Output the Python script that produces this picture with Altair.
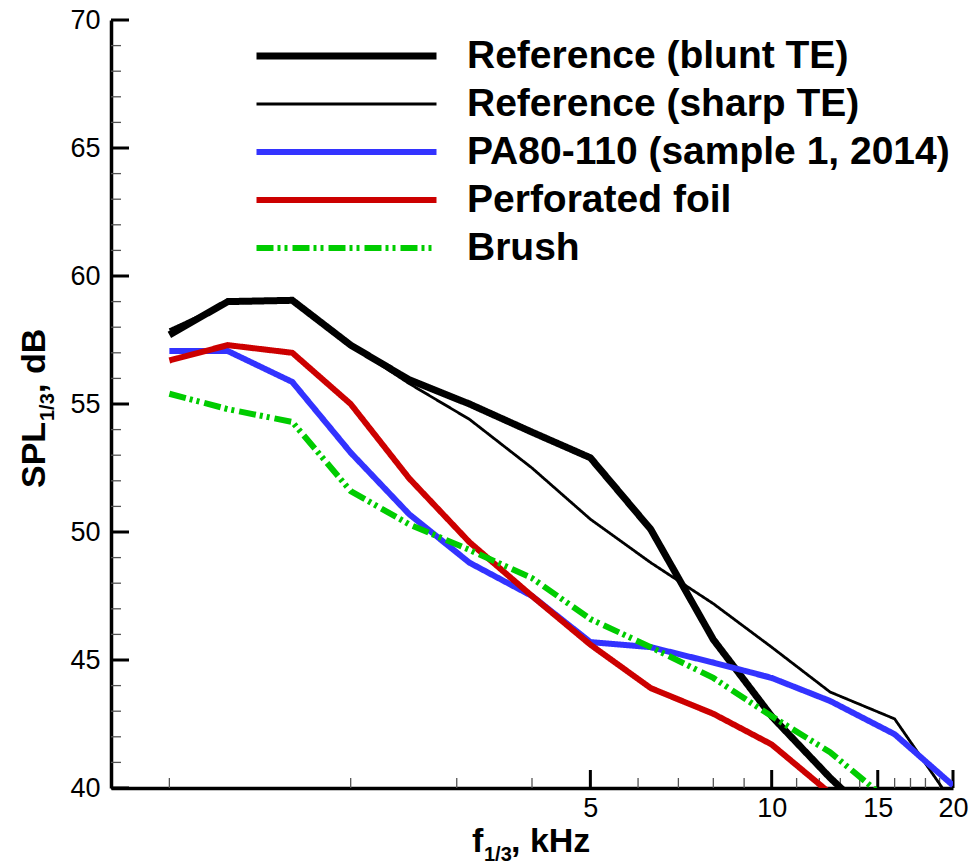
import altair as alt
import pandas as pd

# ---------------- data ----------------
freq_khz = [1, 1.25, 1.6, 2, 2.5, 3.15, 4, 5, 6.3, 8, 10, 12.5, 16, 20]

series_names = [
    "Reference (blunt TE)",
    "Reference (sharp TE)",
    "PA80-110 (sample 1, 2014)",
    "Perforated foil",
    "Brush",
]

spl_blunt = [57.7, 59.0, 59.05, 57.3, 55.95, 55.0, 53.9, 52.9, 50.1, 45.8, 42.8, 40.4, 38.0, 36.0]
spl_sharp = [57.9, 58.95, 59.05, 57.3, 55.8, 54.4, 52.5, 50.5, 48.8, 47.2, 45.5, 43.75, 42.7, 39.4]
spl_pa80 = [57.07, 57.07, 55.86, 53.1, 50.7, 48.8, 47.5, 45.7, 45.5, 44.9, 44.3, 43.4, 42.1, 40.1]
spl_perf = [56.7, 57.3, 57.0, 55.0, 52.1, 49.6, 47.5, 45.6, 43.9, 42.9, 41.7, 39.8, 37.5, 35.5]
spl_brush = [55.4, 54.8, 54.3, 51.6, 50.3, 49.3, 48.2, 46.6, 45.5, 44.3, 42.8, 41.4, 39.3, 37.5]

series_values = [spl_blunt, spl_sharp, spl_pa80, spl_perf, spl_brush]

x_tick_major = [5, 10, 15, 20]
x_tick_minor = [1, 2, 3, 4, 6, 7, 8, 9, 11, 12, 13, 14, 16, 17, 18, 19]
y_tick_major = [40, 45, 50, 55, 60, 65, 70]
y_tick_minor = [41, 42, 43, 44, 46, 47, 48, 49, 51, 52, 53, 54, 56, 57, 58, 59,
                61, 62, 63, 64, 66, 67, 68, 69]

x_title_parts = ["f", "1/3", ", kHz"]
y_title_parts = ["SPL", "1/3", ", dB"]

# ---------------- styles ----------------
colors = ["#000000", "#000000", "#3333ff", "#cc0000", "#00cc00"]
widths = [7, 2.8, 6, 6, 6]
dashes = [[1, 0], [1, 0], [1, 0], [1, 0], [17, 4, 3, 4, 3, 5]]
FONT = "Liberation Sans"

W, H = 842, 768

rows = []
for name, vals in zip(series_names, series_values):
    for f, v in zip(freq_khz, vals):
        rows.append({"series": name, "f": f, "spl": v})
df = pd.DataFrame(rows)

xscale = alt.Scale(type="log", domain=[0.8, 20], nice=False)
yscale = alt.Scale(domain=[40, 70], nice=False, zero=False)

x_axis = alt.Axis(values=x_tick_major, format="d", title=None, ticks=False, tickSize=0,
                  grid=False, domainColor="black", domainWidth=3.5,
                  labelFont=FONT, labelFontSize=27, labelColor="black",
                  labelPadding=7, labelOverlap=False, labelFlush=False)
y_axis = alt.Axis(values=y_tick_major, format="d", title=None, ticks=False, tickSize=0,
                  grid=False, domainColor="black", domainWidth=3.5,
                  labelFont=FONT, labelFontSize=27, labelColor="black",
                  labelPadding=11, labelOverlap=False, labelFlush=False)

legend = alt.Legend(title=None, orient="none", legendX=142, legendY=16,
                    symbolType="stroke", symbolSize=32400, symbolOffset=0,
                    labelFont=FONT, labelFontSize=39, labelFontWeight="bold",
                    labelColor="black", labelOffset=27, labelLimit=1000,
                    clipHeight=40, rowPadding=8, padding=0)

lines = alt.Chart(df).mark_line(clip=True).encode(
    x=alt.X("f:Q", scale=xscale, axis=x_axis),
    y=alt.Y("spl:Q", scale=yscale, axis=y_axis),
    color=alt.Color("series:N", scale=alt.Scale(domain=series_names, range=colors), legend=legend),
    strokeWidth=alt.StrokeWidth("series:N",
                                scale=alt.Scale(type="ordinal", domain=series_names, range=widths),
                                legend=legend),
    strokeDash=alt.StrokeDash("series:N",
                              scale=alt.Scale(type="ordinal", domain=series_names, range=dashes),
                              legend=legend),
)


def xticks(vals, length, width, color):
    return alt.Chart(pd.DataFrame({"f": vals})).mark_rule(color=color, strokeWidth=width).encode(
        x=alt.X("f:Q", scale=xscale, axis=x_axis),
        y=alt.value(H), y2=alt.value(H - length))


def yticks(vals, length, width, color):
    return alt.Chart(pd.DataFrame({"spl": vals})).mark_rule(color=color, strokeWidth=width).encode(
        y=alt.Y("spl:Q", scale=yscale, axis=y_axis),
        x=alt.value(0), x2=alt.value(length))


def txt(s, x, y, size, angle=0):
    return alt.Chart(pd.DataFrame({"t": [s]})).mark_text(
        align="left", baseline="alphabetic", font=FONT, fontSize=size,
        fontWeight="bold", color="black", angle=angle).encode(
        x=alt.value(x), y=alt.value(y), text="t:N")


layers = [
    xticks(x_tick_minor, 10, 1.3, "#555555"),
    xticks(x_tick_major, 18, 3, "black"),
    yticks(y_tick_minor, 10, 1.3, "#555555"),
    yticks(y_tick_major, 18, 3, "black"),
    lines,
    txt(x_title_parts[0], 361, 832, 34),
    txt(x_title_parts[1], 373, 841, 20),
    txt(x_title_parts[2], 400, 832, 34),
    txt(y_title_parts[0], -66, 468, 34, 270),
    txt(y_title_parts[1], -57, 401, 20, 270),
    txt(y_title_parts[2], -66, 373, 34, 270),
]

chart = alt.layer(*layers).properties(
    width=W, height=H,
    autosize=alt.AutoSizeParams(type="none"),
    padding={"left": 111, "top": 20, "right": 24, "bottom": 79},
    background="white",
).configure_view(stroke=None)

chart.save("out.html", embed_options={"renderer": "svg", "actions": False})
